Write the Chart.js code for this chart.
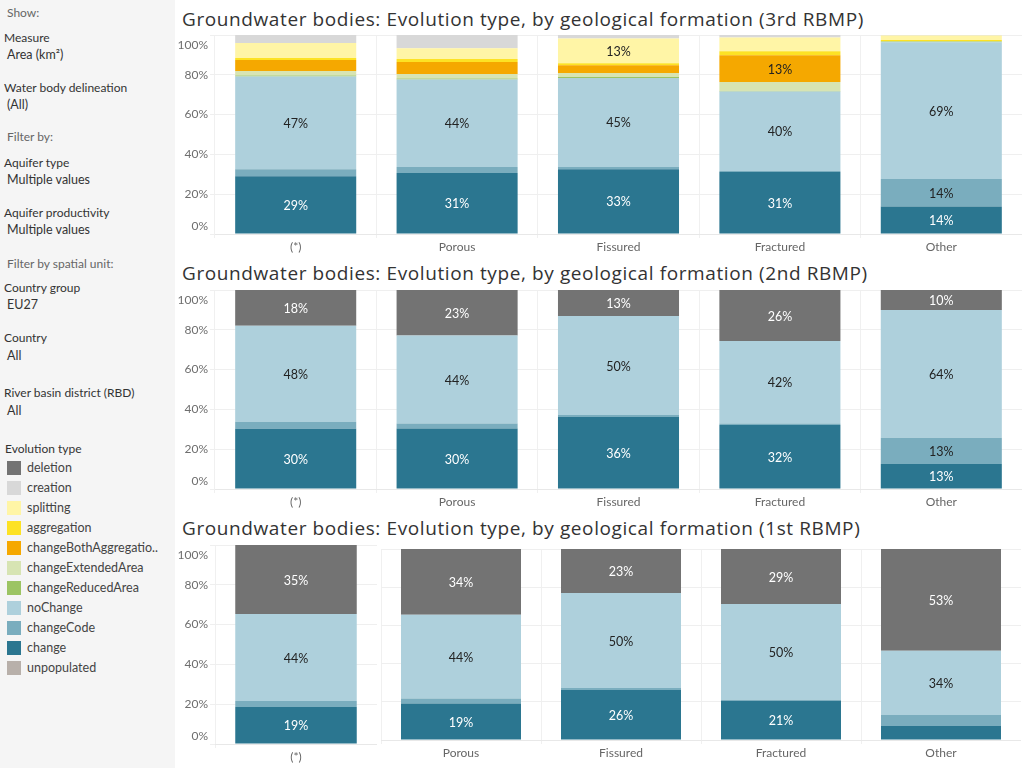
<!DOCTYPE html>
<html>
<head>
<meta charset="utf-8">
<script src="https://cdn.jsdelivr.net/npm/chart.js@4"></script>
<style>
  body { margin: 0; width: 1024px; height: 768px; position: relative; overflow: hidden; background: #fff; font-family: Lato, "Open Sans", sans-serif; }
  #side { position: absolute; left: 0; top: 0; width: 175px; height: 768px; background: #f5f5f5; }
  .t { position: absolute; white-space: nowrap; font-size: 12px; line-height: 14px; color: #333; }
  .h { color: #666; }
  .v { left: 7px; font-size: 12.5px; }
  .k { left: 4px; }
  .sw { position: absolute; left: 7px; width: 14px; height: 14px; }
  .lg { position: absolute; left: 27px; font-size: 12.5px; line-height: 14px; color: #444; white-space: nowrap; }
  .title { position: absolute; left: 182px; font-family: "Open Sans", sans-serif; font-size: 19px; letter-spacing: 0.6px; line-height: 22px; color: #333; white-space: nowrap; }
  canvas { position: absolute; }
</style>
</head>
<body>
<div id="side">
  <div class="t h" style="left:7px;top:6px">Show:</div>
  <div class="t k" style="top:31px">Measure</div>
  <div class="t v" style="top:48px">Area (km²)</div>
  <div class="t k" style="top:81px">Water body delineation</div>
  <div class="t v" style="top:98px">(All)</div>
  <div class="t h" style="left:7px;top:130px">Filter by:</div>
  <div class="t k" style="top:156px">Aquifer type</div>
  <div class="t v" style="top:173px">Multiple values</div>
  <div class="t k" style="top:206px">Aquifer productivity</div>
  <div class="t v" style="top:223px">Multiple values</div>
  <div class="t h" style="left:7px;top:257px">Filter by spatial unit:</div>
  <div class="t k" style="top:281px">Country group</div>
  <div class="t v" style="top:298px">EU27</div>
  <div class="t k" style="top:331px">Country</div>
  <div class="t v" style="top:349px">All</div>
  <div class="t k" style="top:386px">River basin district (RBD)</div>
  <div class="t v" style="top:404px">All</div>
  <div class="t" style="left:5px;top:442px">Evolution type</div>
  <div id="legend"></div>
</div>

<div class="title" style="top:8px">Groundwater bodies: Evolution type, by geological formation (3rd RBMP)</div>
<div class="title" style="top:262px">Groundwater bodies: Evolution type, by geological formation (2nd RBMP)</div>
<div class="title" style="top:517px">Groundwater bodies: Evolution type, by geological formation (1st RBMP)</div>

<canvas id="c3" width="847" height="226" style="left:175px;top:34px"></canvas>
<canvas id="c2" width="847" height="226" style="left:175px;top:289px"></canvas>
<canvas id="c1a" width="202" height="226" style="left:175px;top:544px"></canvas>
<canvas id="c1b" width="640" height="218" style="left:381px;top:548px"></canvas>

<script>
const categories = ['(*)', 'Porous', 'Fissured', 'Fractured', 'Other'];

// legend order, top to bottom
const evolutionTypes = ['deletion', 'creation', 'splitting', 'aggregation', 'changeBothAggregation',
    'changeExtendedArea', 'changeReducedArea', 'noChange', 'changeCode', 'change', 'unpopulated'];
const legendNames = ['deletion', 'creation', 'splitting', 'aggregation', 'changeBothAggregatio..',
    'changeExtendedArea', 'changeReducedArea', 'noChange', 'changeCode', 'change', 'unpopulated'];
const typeColors = ['#737373', '#d8d8d8', '#fff5a6', '#fde224', '#f5a800',
    '#d7e4b3', '#9cc463', '#aed0dc', '#7aadbe', '#2b7690', '#b8b0aa'];
const darkTypes = ['deletion', 'change'];

// 3rd RBMP (% of area)
const change3 = [29.0, 30.7, 32.6, 31.2, 13.8];
const changeCode3 = [3.5, 3.0, 1.1, 0.5, 13.9];
const noChange3 = [46.6, 43.9, 44.7, 39.9, 68.6];
const reduced3 = [0.5, 0.5, 0.5, 0.3, 0.4];
const extended3 = [2.3, 2.3, 2.0, 4.5, 0.2];
const both3 = [5.5, 6.0, 3.9, 13.4, 0];
const aggregation3 = [1.0, 1.5, 1.0, 2.0, 0.6];
const splitting3 = [7.6, 5.5, 12.5, 6.9, 2.3];
const creation3 = [4.0, 6.6, 1.7, 1.3, 0.2];

// 2nd RBMP
const change2 = [30.3, 30.4, 36.2, 32.2, 12.6];
const changeCode2 = [3.5, 2.5, 1.0, 0.7, 13.1];
const noChange2 = [48.2, 44.2, 49.7, 41.5, 64.3];
const deletion2 = [18.0, 22.9, 13.1, 25.6, 10.0];

// 1st RBMP
const change1 = [18.6, 19.1, 26.2, 20.6, 7.3];
const changeCode1 = [3.0, 2.6, 1.0, 0.5, 5.8];
const noChange1 = [43.7, 43.9, 49.7, 50.1, 33.6];
const deletion1 = [34.7, 34.4, 23.1, 28.8, 53.3];

const FONT = 'Lato, "Open Sans", sans-serif';
Chart.defaults.font.family = FONT;

// sidebar legend
const legend = document.getElementById('legend');
legendNames.forEach((name, i) => {
    const y = 461 + i * 20;
    legend.innerHTML += `<div class="sw" style="top:${y}px;background:${typeColors[i]}"></div>` +
        `<div class="lg" style="top:${y}px">${name}</div>`;
});

const segmentLabels = {
    id: 'segmentLabels',
    afterDatasetsDraw(chart) {
        const ctx = chart.ctx;
        ctx.save();
        ctx.font = '12.5px ' + FONT;
        ctx.textAlign = 'center';
        ctx.textBaseline = 'middle';
        chart.data.datasets.forEach((ds, i) => {
            chart.getDatasetMeta(i).data.forEach((bar, j) => {
                const v = ds.data[j];
                if (v < 9.5) return;
                ctx.fillStyle = darkTypes.includes(ds.label) ? '#fff' : '#222';
                ctx.fillText(Math.round(v) + '%', bar.x, (bar.y + bar.base) / 2 + 1);
            });
        });
        ctx.restore();
    }
};

const yTickLabels = {
    id: 'yTickLabels',
    afterDraw(chart, args, opts) {
        if (!opts.show) return;
        const y = chart.scales.y;
        const ctx = chart.ctx;
        ctx.save();
        ctx.font = '12px ' + FONT;
        ctx.fillStyle = '#6e6e6e';
        ctx.textAlign = 'right';
        ctx.textBaseline = 'middle';
        y.ticks.forEach(t => {
            let py = y.getPixelForValue(t.value);
            py = Math.min(Math.max(py, y.top + 10), y.bottom - 8);
            ctx.fillText(t.value + '%', chart.chartArea.left - 7, py);
        });
        ctx.restore();
    }
};

function makeChart(id, cats, series, showY) {
    // series: {type: values}, stacked bottom-up in reverse legend order
    const datasets = [];
    for (let i = evolutionTypes.length - 1; i >= 0; i--) {
        const vals = series[evolutionTypes[i]];
        if (!vals) continue;
        datasets.push({
            label: evolutionTypes[i],
            data: vals,
            backgroundColor: typeColors[i],
            barPercentage: 0.75,
            categoryPercentage: 1.0,
        });
    }
    return new Chart(document.getElementById(id), {
        type: 'bar',
        data: { labels: cats, datasets },
        options: {
            responsive: false,
            animation: false,
            layout: { padding: { top: 1, left: 0, right: 0, bottom: 0 } },
            plugins: {
                legend: { display: false },
                tooltip: { enabled: false },
                yTickLabels: { show: showY },
            },
            scales: {
                x: {
                    stacked: true,
                    grid: { offset: true, color: '#f0f0f0', tickLength: 4 },
                    border: { color: '#e8e8e8' },
                    ticks: { color: '#666', font: { size: 12 }, padding: 2 },
                    afterFit: s => { s.height = 26; },
                },
                y: {
                    stacked: true,
                    min: 0,
                    max: 100,
                    ticks: { stepSize: 20, display: false },
                    grid: { color: '#efefef', tickLength: showY ? 5 : 0 },
                    border: { display: false },
                    afterFit: s => { s.width = showY ? 40 : 0; },
                }
            }
        },
        plugins: [segmentLabels, yTickLabels]
    });
}

makeChart('c3', categories, {
    change: change3, changeCode: changeCode3, noChange: noChange3,
    changeReducedArea: reduced3, changeExtendedArea: extended3, changeBothAggregation: both3,
    aggregation: aggregation3, splitting: splitting3, creation: creation3
}, true);

makeChart('c2', categories, {
    change: change2, changeCode: changeCode2, noChange: noChange2, deletion: deletion2
}, true);

// 1st RBMP is split in two panes
makeChart('c1a', categories.slice(0, 1), {
    change: change1.slice(0, 1), changeCode: changeCode1.slice(0, 1),
    noChange: noChange1.slice(0, 1), deletion: deletion1.slice(0, 1)
}, true);

makeChart('c1b', categories.slice(1), {
    change: change1.slice(1), changeCode: changeCode1.slice(1),
    noChange: noChange1.slice(1), deletion: deletion1.slice(1)
}, false);
</script>
</body>
</html>
